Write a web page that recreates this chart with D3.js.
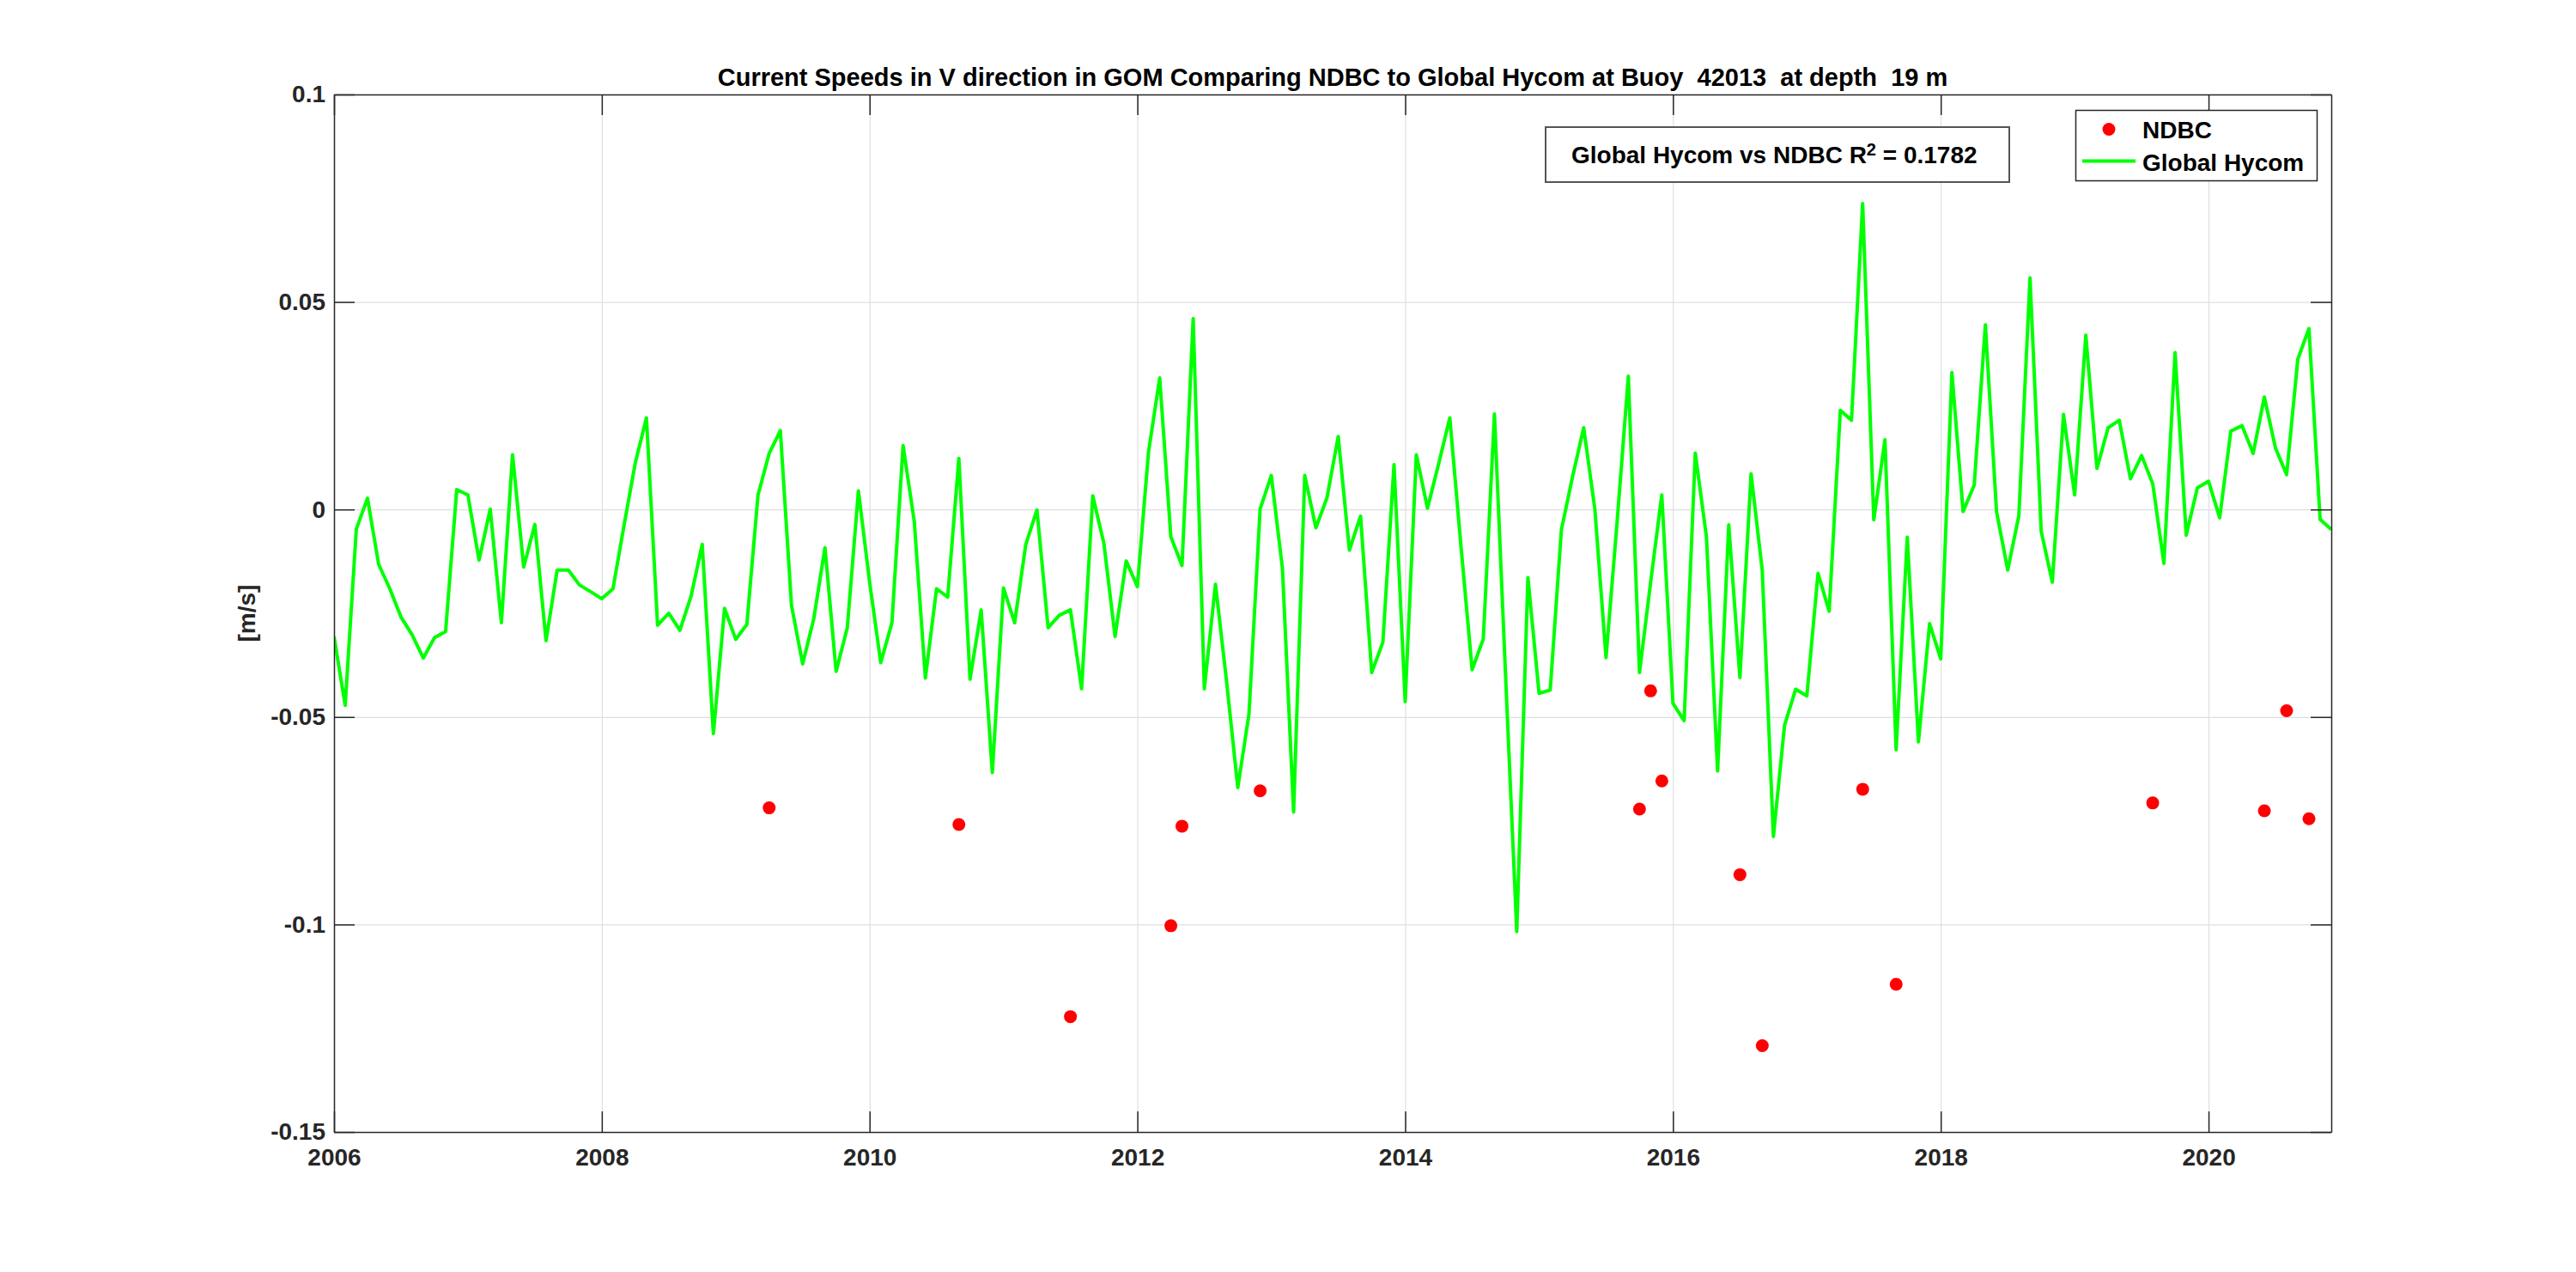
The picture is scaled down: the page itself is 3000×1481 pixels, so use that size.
<!DOCTYPE html>
<html>
<head>
<meta charset="utf-8">
<script src="https://cdn.jsdelivr.net/npm/d3@7"></script>
<style>
  html, body { margin: 0; padding: 0; background: #ffffff; }
  svg { display: block; }
  text { font-family: "Liberation Sans", Arial, Helvetica, sans-serif; font-weight: bold; white-space: pre; }
</style>
</head>
<body>
<svg id="chart" width="3000" height="1481"></svg>
<script>
// ---------------- DATA ----------------
const titleText = "Current Speeds in V direction in GOM Comparing NDBC to Global Hycom at Buoy  42013  at depth  19 m";
const yLabel = "[m/s]";
const seriesNames = ["NDBC", "Global Hycom"];
const r2Value = "0.1782";

// Global Hycom monthly values, Jan 2006 .. Dec 2020
const hycomStartYear = 2006;
const hycomValues = [
  -0.0306, -0.0472, -0.0047, 0.0027, -0.0132, -0.0191, -0.0259, -0.0302, -0.0358, -0.0309, -0.0294, 0.0048,
  0.0035, -0.0122, 0.0001, -0.0273, 0.0132, -0.0139, -0.0036, -0.0316, -0.0146, -0.0146, -0.0182, -0.0198,
  -0.0215, -0.0191, -0.0037, 0.0112, 0.0221, -0.0279, -0.0250, -0.0291, -0.0209, -0.0084, -0.0540, -0.0238,
  -0.0313, -0.0277, 0.0035, 0.0135, 0.0190, -0.0231, -0.0372, -0.0263, -0.0092, -0.0390, -0.0285, 0.0045,
  -0.0175, -0.0369, -0.0273, 0.0154, -0.0028, -0.0406, -0.0191, -0.0211, 0.0123, -0.0409, -0.0242, -0.0634,
  -0.0189, -0.0273, -0.0084, -0.0001, -0.0285, -0.0255, -0.0242, -0.0432, 0.0033, -0.0082, -0.0306, -0.0124,
  -0.0186, 0.0139, 0.0317, -0.0066, -0.0135, 0.0460, -0.0432, -0.0180, -0.0416, -0.0670, -0.0493, 0.0001,
  0.0082, -0.0142, -0.0729, 0.0082, -0.0044, 0.0029, 0.0176, -0.0098, -0.0016, -0.0393, -0.0320, 0.0108,
  -0.0463, 0.0132, 0.0003, 0.0110, 0.0221, -0.0088, -0.0386, -0.0312, 0.0230, -0.0402, -0.1017, -0.0164,
  -0.0443, -0.0435, -0.0049, 0.0079, 0.0197, 0.0001, -0.0357, -0.0028, 0.0321, -0.0393, -0.0175, 0.0035,
  -0.0467, -0.0509, 0.0136, -0.0066, -0.0630, -0.0037, -0.0405, 0.0086, -0.0146, -0.0788, -0.0520, -0.0433,
  -0.0449, -0.0154, -0.0245, 0.0239, 0.0215, 0.0737, -0.0025, 0.0168, -0.0579, -0.0067, -0.0560, -0.0275,
  -0.0360, 0.0330, -0.0005, 0.0059, 0.0445, -0.0005, -0.0146, -0.0015, 0.0558, -0.0052, -0.0175, 0.0229,
  0.0035, 0.0420, 0.0099, 0.0197, 0.0215, 0.0074, 0.0130, 0.0062, -0.0130, 0.0378, -0.0062, 0.0052,
  0.0068, -0.0020, 0.0189, 0.0202, 0.0135, 0.0271, 0.0148, 0.0084, 0.0362, 0.0436, -0.0024, -0.0048
];

// NDBC observations (decimal year, value)
const ndbcYears = [2009.25, 2010.667, 2011.5, 2012.25, 2012.333, 2012.917, 2015.75, 2015.833, 2015.917,
                   2016.5, 2016.667, 2017.417, 2017.667, 2019.583, 2020.417, 2020.583, 2020.75];
const ndbcValues = [-0.0719, -0.0759, -0.1222, -0.1003, -0.0763, -0.0678, -0.0722, -0.0437, -0.0654,
                    -0.0880, -0.1292, -0.0674, -0.1144, -0.0707, -0.0726, -0.0485, -0.0745];

const xTickValues = [2006, 2008, 2010, 2012, 2014, 2016, 2018, 2020];
const yTickValues = [-0.15, -0.1, -0.05, 0, 0.05, 0.1];

// ---------------- LAYOUT ----------------
const svg = d3.select("#chart");
const W = 3000, H = 1481;
const plot = { left: 389, right: 2715, top: 110, bottom: 1318 };
const axisColor = "#262626";
const gridColor = "#dfdfdf";
const FS = 28;

svg.append("rect").attr("width", W).attr("height", H).attr("fill", "#ffffff");

const hycom = hycomValues.map((v, i) => ({ x: hycomStartYear + i / 12, y: v }));
const ndbc = ndbcYears.map((t, i) => ({ x: t, y: ndbcValues[i] }));

const x = d3.scaleLinear()
  .domain([hycomStartYear, hycomStartYear + (hycomValues.length - 1) / 12])
  .range([plot.left, plot.right]);
const y = d3.scaleLinear().domain([-0.15, 0.1]).range([plot.bottom, plot.top]);

const pw = plot.right - plot.left, ph = plot.bottom - plot.top;

// grid
const gx = svg.append("g").attr("transform", `translate(0,${plot.bottom})`)
  .call(d3.axisBottom(x).tickValues(xTickValues).tickSize(-ph).tickFormat(""));
gx.select(".domain").remove();
gx.selectAll("line").attr("stroke", gridColor).attr("stroke-width", 1.2);
const gy = svg.append("g").attr("transform", `translate(${plot.left},0)`)
  .call(d3.axisLeft(y).tickValues(yTickValues).tickSize(-pw).tickFormat(""));
gy.select(".domain").remove();
gy.selectAll("line").attr("stroke", gridColor).attr("stroke-width", 1.2);

// clip
svg.append("defs").append("clipPath").attr("id", "plotclip")
  .append("rect").attr("x", plot.left).attr("y", plot.top).attr("width", pw).attr("height", ph);

// Hycom line
svg.append("path")
  .datum(hycom)
  .attr("clip-path", "url(#plotclip)")
  .attr("fill", "none")
  .attr("stroke", "#00ff00")
  .attr("stroke-width", 4)
  .attr("stroke-linejoin", "round")
  .attr("d", d3.line().x(d => x(d.x)).y(d => y(d.y)));

// NDBC dots
svg.append("g").selectAll("circle").data(ndbc).join("circle")
  .attr("cx", d => x(d.x)).attr("cy", d => y(d.y)).attr("r", 7.5)
  .attr("fill", "#ff0000");

// axes
const fmtY = d => String(+d.toFixed(2));
function styleAxis(g) {
  g.selectAll(".domain").attr("stroke", axisColor).attr("stroke-width", 1.5);
  g.selectAll(".tick line").attr("stroke", axisColor).attr("stroke-width", 1.5);
  g.selectAll("text").attr("fill", axisColor).attr("font-size", FS)
    .attr("font-family", '"Liberation Sans", Arial, Helvetica, sans-serif').attr("font-weight", "bold");
}
const axB = svg.append("g").attr("transform", `translate(0,${plot.bottom})`)
  .call(d3.axisBottom(x).tickValues(xTickValues).tickSizeInner(-24).tickSizeOuter(0).tickPadding(19).tickFormat(d3.format("d")));
styleAxis(axB);
const axT = svg.append("g").attr("transform", `translate(0,${plot.top})`)
  .call(d3.axisTop(x).tickValues(xTickValues).tickSizeInner(-24).tickSizeOuter(0).tickFormat(""));
styleAxis(axT);
const axL = svg.append("g").attr("transform", `translate(${plot.left},0)`)
  .call(d3.axisLeft(y).tickValues(yTickValues).tickSizeInner(-24).tickSizeOuter(0).tickPadding(10).tickFormat(fmtY));
styleAxis(axL);
const axR = svg.append("g").attr("transform", `translate(${plot.right},0)`)
  .call(d3.axisRight(y).tickValues(yTickValues).tickSizeInner(-24).tickSizeOuter(0).tickFormat(""));
styleAxis(axR);

// y label
svg.append("text")
  .attr("transform", `translate(297,${(plot.top + plot.bottom) / 2}) rotate(-90)`)
  .attr("text-anchor", "middle").attr("font-size", FS).attr("fill", axisColor)
  .text(yLabel);

// title
svg.append("text")
  .attr("x", (plot.left + plot.right) / 2).attr("y", 100)
  .attr("text-anchor", "middle").attr("font-size", 29).attr("fill", "#000000")
  .text(titleText);

// R^2 annotation box
svg.append("rect").attr("x", 1800).attr("y", 148).attr("width", 540).attr("height", 64)
  .attr("fill", "#ffffff").attr("stroke", "#555555").attr("stroke-width", 2);
const ann = svg.append("text").attr("x", 1830).attr("y", 190).attr("font-size", FS).attr("fill", "#000000");
ann.append("tspan").text(seriesNames[1] + " vs " + seriesNames[0] + " R");
ann.append("tspan").attr("dy", -9).attr("font-size", 20).text("2");
ann.append("tspan").attr("dy", 9).text(" = " + r2Value);

// legend
const lg = svg.append("g");
lg.append("rect").attr("x", 2417.5).attr("y", 128.5).attr("width", 281).attr("height", 82)
  .attr("fill", "#ffffff").attr("stroke", axisColor).attr("stroke-width", 1.5);
lg.append("circle").attr("cx", 2456).attr("cy", 150.5).attr("r", 7.5).attr("fill", "#ff0000");
lg.append("line").attr("x1", 2425).attr("x2", 2487).attr("y1", 187.5).attr("y2", 187.5)
  .attr("stroke", "#00ff00").attr("stroke-width", 4);
lg.append("text").attr("x", 2495).attr("y", 160.5).attr("font-size", FS).attr("fill", "#000000").text(seriesNames[0]);
lg.append("text").attr("x", 2495).attr("y", 198.5).attr("font-size", FS).attr("fill", "#000000").text(seriesNames[1]);
</script>
</body>
</html>
